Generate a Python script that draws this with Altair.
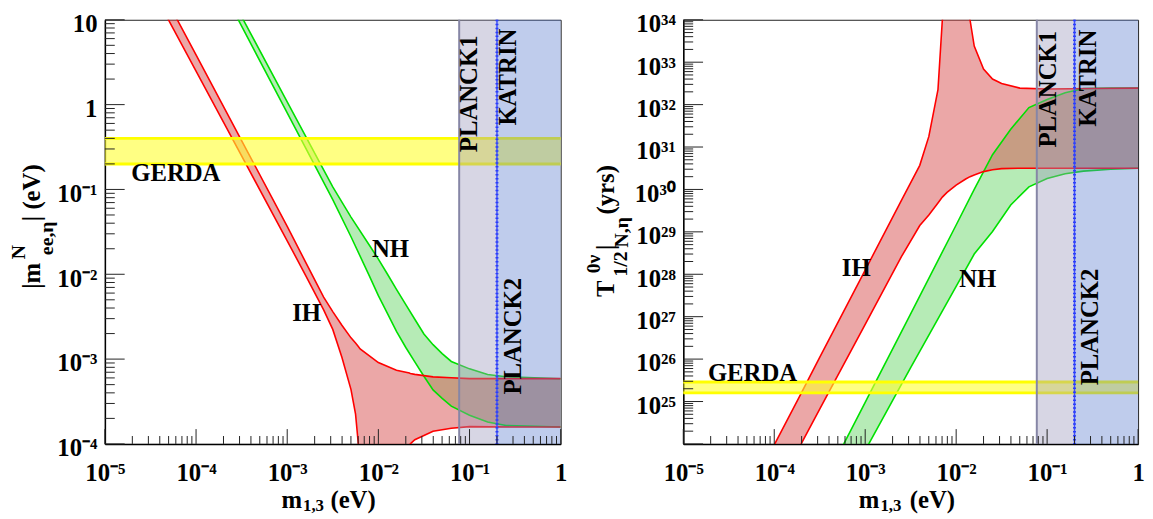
import altair as alt
import pandas as pd

SERIF = "Liberation Serif"

# ---------------- values ----------------
# Left panel: |m^N_ee,eta| (eV) against m_1,3 (eV)
ih_m1 = [4.47e-5, 1.0e-4, 3.16e-4, 1.0e-3, 1.58e-3, 2.51e-3, 3.16e-3, 3.98e-3,
         5.01e-3, 5.62e-3, 6.03e-3, 6.31e-3, 1.0e-2, 1.58e-2, 2.19e-2, 2.24e-2,
         2.51e-2, 3.98e-2, 6.31e-2, 0.1, 0.316, 1.0]
ih_mee_hi = [19.5, 3.85, 0.377, 0.0368, 0.0141, 5.37e-3, 3.63e-3, 2.51e-3,
             1.78e-3, 1.55e-3, 1.41e-3, 1.32e-3, 9.1e-4, 7.4e-4, 6.84e-4, 6.76e-4,
             6.61e-4, 6.17e-4, 6.03e-4, 5.89e-4, 5.89e-4, 5.89e-4]
ih_mee_lo = [12.4, 2.48, 0.248, 0.0248, 9.86e-3, 3.8e-3, 2.24e-3, 1.05e-3,
             4.37e-4, 2.24e-4, 1.0e-4, 1e-6, 1e-6, 1e-6, 1e-6, 1.0e-4,
             1.12e-4, 1.41e-4, 1.53e-4, 1.6e-4, 1.58e-4, 1.58e-4]

nh_m1 = [2.51e-4, 1.0e-3, 3.16e-3, 5.01e-3, 7.94e-3, 1.0e-2, 1.26e-2, 1.58e-2,
         2.0e-2, 2.51e-2, 3.16e-2, 3.98e-2, 5.01e-2, 6.31e-2, 0.1, 0.158, 0.251, 1.0]
nh_mee_hi = [17.3, 1.08, 0.107, 0.0472, 0.0221, 0.0151, 0.0100, 6.64e-3,
             4.39e-3, 2.95e-3, 1.98e-3, 1.48e-3, 1.16e-3, 9.38e-4, 7.67e-4, 6.58e-4,
             6.18e-4, 5.87e-4]
nh_mee_lo = [13.5, 0.798, 0.0757, 0.0277, 9.64e-3, 5.6e-3, 3.44e-3, 2.12e-3,
             1.37e-3, 9.27e-4, 6.28e-4, 4.33e-4, 3.44e-4, 2.79e-4, 2.18e-4, 1.81e-4,
             1.65e-4, 1.58e-4]

# Right panel: T^{0nu}_{1/2} (yrs) against m_1,3 (eV)
ih_t_m1 = [8.91e-5, 1.95e-4, 3.16e-4, 1.0e-3, 2.51e-3, 3.98e-3, 5.01e-3, 6.31e-3,
           7.05e-3, 7.94e-3, 1.0e-2, 1.26e-2, 1.42e-2, 1.58e-2, 2.0e-2, 2.51e-2,
           3.16e-2, 5.01e-2, 0.1, 0.316, 1.0]
ih_t_hi = [5.9e23, 1.48e25, 1.1e26, 1.26e28, 5.6e29, 3.7e30, 1.78e31, 2.24e32,
           1e34, 1e36, 1e36, 1e36, 1e34, 2.4e33, 6.9e32, 4.0e32,
           3.16e32, 2.45e32, 2.34e32, 2.4e32, 2.45e32]
ih_t_lo = [4.2e22, 9.5e23, 6.6e24, 6.6e26, 2.63e28, 1.41e29, 2.5e29, 4.8e29,
           6.6e29, 8.5e29, 1.26e30, 1.74e30, 2.0e30, 2.2e30, 2.63e30, 2.9e30,
           3.1e30, 3.16e30, 3.16e30, 3.16e30, 3.16e30]

nh_t_m1 = [5.01e-4, 1.0e-3, 1.08e-3, 3.16e-3, 1.0e-2, 1.58e-2, 2.51e-2, 3.98e-2,
           6.31e-2, 0.1, 0.158, 0.251, 0.501, 1.0]
nh_t_hi = [5.4e23, 9.5e24, 1.32e25, 1.17e27, 1.45e29, 1.0e30, 6.6e30, 2.63e31,
           8.5e31, 1.32e32, 1.9e32, 2.4e32, 2.45e32, 2.45e32]
nh_t_lo = [5.0e22, 7.1e23, 9.5e23, 6.3e25, 5.2e27, 3.0e28, 1.02e29, 4.3e29,
           1.15e30, 1.82e30, 2.34e30, 2.7e30, 3.0e30, 3.16e30]

# experimental bands
gerda_mee = [0.2, 0.4]
gerda_t = [1.6e25, 2.9e25]
planck1_m = [0.077, 0.2]
katrin_m = [0.2, 1.0]

# axes
x_domain = [1e-5, 1.0]
mee_domain = [1e-4, 10.0]
t_domain = [1e24, 1e34]
x_label_exps = [-5, -4, -3, -2, -1, 0]
mee_label_exps = [-4, -3, -2, -1, 0, 1]
t_label_exps = [25, 26, 27, 28, 29, 30, 31, 32, 33, 34]
t_tick_exps = [24] + t_label_exps

# annotations
left_txt = ["GERDA", "IH", "NH"]
left_txt_x = [6.0e-5, 1.63e-3, 1.36e-2]
left_txt_y = [0.156, 3.45e-3, 1.98e-2]
left_vtxt = ["PLANCK1", "KATRIN", "PLANCK2"]
left_vtxt_x = [0.1, 0.266, 0.30]
left_vtxt_y = [1.34, 2.11, 1.86e-3]

right_txt = ["GERDA", "IH", "NH"]
right_txt_x = [5.77e-5, 7.98e-4, 1.73e-2]
right_txt_y = [4.6e25, 1.4e28, 7.9e27]
right_vtxt = ["PLANCK1", "KATRIN", "PLANCK2"]
right_vtxt_x = [0.1026, 0.279, 0.30]
right_vtxt_y = [2.3e32, 4.2e32, 5.7e26]

# ---------------- helpers ----------------
SUP = str.maketrans("-0123456789", "⁻⁰¹²³⁴⁵⁶⁷⁸⁹")


def decade_label(e):
    if e == 0:
        return "1"
    if e == 1:
        return "10"
    return "10" + str(e).translate(SUP)


def label_expr(exps):
    parts = [f"round(log(datum.value)/LN10) == {e} ? '{decade_label(e)}'" for e in exps]
    return " : ".join(parts) + " : ''"


def minor_ticks(exps):
    out = []
    for e in exps:
        for m in range(2, 10):
            out.append(m * 10.0 ** e)
    return out


W_L, W_R, H = 461, 460, 429


def make_panel(width, y_domain, y_label_exps, y_tick_exps, bands, gerda, txt, vtxt,
               title_pieces, extent):
    xscale = alt.Scale(type="log", domain=x_domain, nice=False)
    yscale = alt.Scale(type="log", domain=y_domain, nice=False)
    xaxis = alt.Axis(values=[10.0 ** e for e in x_label_exps], labelExpr=label_expr(x_label_exps),
                     title=None, ticks=False, grid=False, domainColor="black", domainWidth=1.5,
                     labelFont=SERIF, labelFontWeight="bold", labelFontSize=25, labelColor="black",
                     labelPadding=17, labelFlush=False, labelOverlap=False, labelBound=False)
    yaxis = alt.Axis(values=[10.0 ** e for e in y_label_exps], labelExpr=label_expr(y_label_exps),
                     title=None, ticks=False, grid=False, domainColor="black", domainWidth=1.5,
                     labelFont=SERIF, labelFontWeight="bold", labelFontSize=25, labelColor="black",
                     labelPadding=8, labelOffset=4, labelFlush=False, labelOverlap=False,
                     minExtent=extent, maxExtent=extent)

    def X(f):
        return alt.X(f"{f}:Q", scale=xscale, axis=xaxis)

    def Y(f):
        return alt.Y(f"{f}:Q", scale=yscale, axis=yaxis)

    layers = []
    # hierarchy bands
    for m1, lo, hi, fill, op, line in bands:
        df = pd.DataFrame({"m1": m1, "lo": lo, "hi": hi})
        layers.append(alt.Chart(df).mark_area(color=fill, opacity=op, clip=True)
                      .encode(x=X("m1"), y=Y("lo"), y2="hi"))
    for m1, lo, hi, fill, op, line in bands:
        df = pd.DataFrame({"m1": m1, "lo": lo, "hi": hi})
        for col in ("lo", "hi"):
            layers.append(alt.Chart(df).mark_line(color=line, strokeWidth=1.6, clip=True)
                          .encode(x=X("m1"), y=Y(col)))
    # GERDA band
    gdf = pd.DataFrame({"x1": [x_domain[0]], "x2": [x_domain[1]], "y1": [gerda[0]], "y2": [gerda[1]]})
    layers.append(alt.Chart(gdf).mark_rect(color="#ffff30", opacity=0.6)
                  .encode(x=X("x1"), x2="x2", y=Y("y1"), y2="y2"))
    gl = pd.DataFrame({"x1": [x_domain[0]] * 2, "x2": [x_domain[1]] * 2, "y": gerda})
    layers.append(alt.Chart(gl).mark_rule(color="#ffff00", strokeWidth=3)
                  .encode(x=X("x1"), x2="x2", y=Y("y")))
    # Planck / KATRIN bands
    pdf = pd.DataFrame({"x1": [planck1_m[0], katrin_m[0]], "x2": [planck1_m[1], katrin_m[1]],
                        "y1": [y_domain[0]] * 2, "y2": [y_domain[1]] * 2,
                        "fill": ["#9c98bc", "#5f80d0"]})
    layers.append(alt.Chart(pdf).mark_rect(opacity=0.4)
                  .encode(x=X("x1"), x2="x2", y=Y("y1"), y2="y2",
                          color=alt.Color("fill:N", scale=None)))
    layers.append(alt.Chart(pd.DataFrame({"v": [planck1_m[0]]})).mark_rule(color="#8686a6", strokeWidth=2)
                  .encode(x=X("v")))
    kdf = pd.DataFrame({"v": [katrin_m[0]]})
    layers.append(alt.Chart(kdf).mark_rule(color="#4050f0", strokeWidth=1.5).encode(x=X("v")))
    layers.append(alt.Chart(kdf).mark_rule(color="#2a3cff", strokeWidth=3, strokeDash=[1.5, 2.5])
                  .encode(x=X("v")))
    # inward ticks
    xmaj = pd.DataFrame({"v": [10.0 ** e for e in x_label_exps]})
    xmin = pd.DataFrame({"v": minor_ticks(x_label_exps[:-1])})
    ymaj = pd.DataFrame({"v": [10.0 ** e for e in y_tick_exps]})
    ymin = pd.DataFrame({"v": minor_ticks(y_tick_exps[:-1])})
    layers.append(alt.Chart(xmaj).mark_rule(color="#222", strokeWidth=1)
                  .encode(x=X("v"), y=alt.value(H), y2=alt.value(H - 15)))
    layers.append(alt.Chart(xmin).mark_rule(color="#222", strokeWidth=1)
                  .encode(x=X("v"), y=alt.value(H), y2=alt.value(H - 8)))
    layers.append(alt.Chart(ymaj).mark_rule(color="#222", strokeWidth=1)
                  .encode(y=Y("v"), x=alt.value(0), x2=alt.value(20)))
    layers.append(alt.Chart(ymin).mark_rule(color="#222", strokeWidth=1)
                  .encode(y=Y("v"), x=alt.value(0), x2=alt.value(10)))
    # in-plot labels
    tdf = pd.DataFrame({"x": txt[1], "y": txt[2], "t": txt[0]})
    layers.append(alt.Chart(tdf).mark_text(font=SERIF, fontWeight="bold", fontSize=25, color="black")
                  .encode(x=X("x"), y=Y("y"), text="t:N"))
    vdf = pd.DataFrame({"x": vtxt[1], "y": vtxt[2], "t": vtxt[0]})
    layers.append(alt.Chart(vdf).mark_text(font=SERIF, fontWeight="bold", fontSize=25, color="black",
                                           angle=270)
                  .encode(x=X("x"), y=Y("y"), text="t:N"))
    # axis titles with sub/superscripts
    one = pd.DataFrame({"a": [0]})
    for t, px, py, size, ang in title_pieces:
        layers.append(alt.Chart(one).mark_text(font=SERIF, fontWeight="bold", fontSize=size,
                                               color="black", angle=ang)
                      .encode(x=alt.value(px), y=alt.value(py), text=alt.value(t)))
    return alt.layer(*layers).properties(width=width, height=H)


left_title = [
    ("|m", -74, 259, 25, 270), ("N", -87, 235, 20, 270), ("ee,η", -58, 221, 20, 270),
    ("| (eV)", -74, 175, 25, 270),
    ("m", 189, 486, 25, 0), ("1,3", 211, 492, 17, 0), ("(eV)", 251, 486, 25, 0),
]
right_title = [
    ("T", -78, 272, 25, 270), ("0ν", -90, 247, 20, 270), ("1/2", -63, 247, 20, 270),
    ("|", -78, 230, 25, 270), ("N,η", -62, 215, 20, 270), ("(yrs)", -78, 172, 25, 270),
    ("m", 188, 486, 25, 0), ("1,3", 210, 492, 17, 0), ("(eV)", 252, 486, 25, 0),
]

left = make_panel(
    W_L, mee_domain, mee_label_exps, mee_label_exps,
    [(nh_m1, nh_mee_lo, nh_mee_hi, "#50d050", 0.42, "#00e000"),
     (ih_m1, ih_mee_lo, ih_mee_hi, "#d85050", 0.5, "#ff0000")],
    gerda_mee, (left_txt, left_txt_x, left_txt_y), (left_vtxt, left_vtxt_x, left_vtxt_y),
    left_title, 96)

right = make_panel(
    W_R, t_domain, t_label_exps, t_tick_exps,
    [(nh_t_m1, nh_t_lo, nh_t_hi, "#50d050", 0.42, "#00e000"),
     (ih_t_m1, ih_t_lo, ih_t_hi, "#d85050", 0.5, "#ff0000")],
    gerda_t, (right_txt, right_txt_x, right_txt_y), (right_vtxt, right_vtxt_x, right_vtxt_y),
    right_title, 100)

chart = (alt.hconcat(left, right, spacing=16)
         .properties(padding={"left": 0, "top": 0, "right": 0, "bottom": 0}, background="white")
         .configure_view(stroke="#222", strokeWidth=1))

chart.save("out.html", embed_options={"renderer": "svg", "actions": False})
